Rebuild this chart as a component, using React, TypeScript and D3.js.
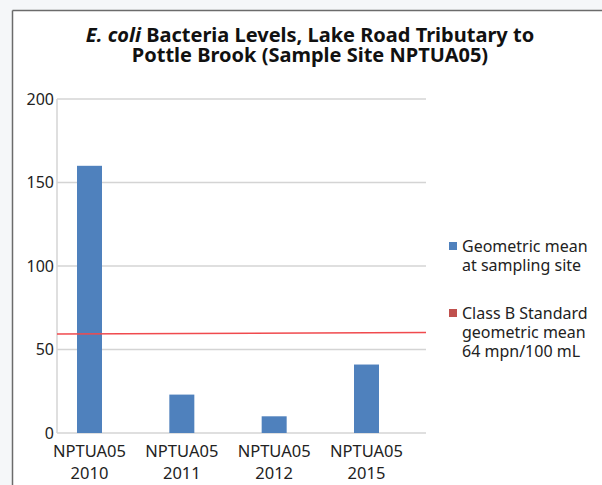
import * as d3 from "d3";

const categories = ["NPTUA05 2010", "NPTUA05 2011", "NPTUA05 2012", "NPTUA05 2015"];
const geoMean = [160, 23, 10, 41];
// red standard line, value at left end and right end of plot
const standardLine = [59.3, 60.2];
const yTicks = [0, 50, 100, 150, 200];
const legendItems = [
	{ lines: ["Geometric mean", "at sampling site"], color: "#4f81bd" },
	{ lines: ["Class B Standard", "geometric mean", "64 mpn/100 mL"], color: "#c0504d" },
];

const W = 602;
const H = 485;
const font = "'Noto Sans', sans-serif";

export default function App() {
	const plot = { left: 57, right: 426, top: 99, bottom: 433 };

	const y = d3.scaleLinear().domain([0, 200]).range([plot.bottom, plot.top]);
	const x = d3.scalePoint<string>().domain(categories).range([89.5, 366.5]);
	const barW = 25;

	const redLine = d3
		.line<number>()
		.x((_, i) => (i === 0 ? plot.left : plot.right))
		.y((d) => y(d));

	return (
		<div style={{ position: "fixed", left: 0, top: 0 }}>
			<svg width={W} height={H} style={{ display: "block", fontFamily: font }}>
				<rect width={W} height={H} fill="#f5f7f9" />
				<rect x={13} y={11} width={W - 13} height={H - 11} fill="#fff" />
				<line x1={12.5} x2={W} y1={10.5} y2={10.5} stroke="#6b6b6b" strokeWidth={1.5} />
				<line x1={12.5} x2={12.5} y1={10.5} y2={H} stroke="#6b6b6b" strokeWidth={1.5} />

				<text textAnchor="middle" fontWeight="bold" fontSize={20} fill="#111">
					<tspan x={310} y={42}>
						<tspan fontStyle="italic">E. coli</tspan> Bacteria Levels, Lake Road Tributary to
					</tspan>
					<tspan x={310} y={62}>Pottle Brook (Sample Site NPTUA05)</tspan>
				</text>

				{yTicks.map((t) => (
					<g key={t}>
						<line
							x1={plot.left}
							x2={plot.right}
							y1={y(t)}
							y2={y(t)}
							stroke="#d4d4d4"
							strokeWidth={1.5}
						/>
						<text
							x={54}
							y={y(t)}
							dy="0.36em"
							textAnchor="end"
							fontSize={16}
							fill="#222"
						>
							{t}
						</text>
					</g>
				))}
				<line
					x1={plot.left}
					x2={plot.left}
					y1={plot.top}
					y2={plot.bottom}
					stroke="#d4d4d4"
					strokeWidth={1.5}
				/>

				{categories.map((c, i) => (
					<g key={c}>
						<rect
							x={x(c)! - barW / 2}
							y={y(geoMean[i])}
							width={barW}
							height={plot.bottom - y(geoMean[i])}
							fill="#4f81bd"
						/>
						<text textAnchor="middle" fontSize={16.5} fill="#222">
							{c.split(" ").map((part, j) => (
								<tspan key={j} x={x(c)} y={457 + j * 22}>
									{part}
								</tspan>
							))}
						</text>
					</g>
				))}

				<path d={redLine(standardLine) ?? ""} fill="none" stroke="#f04a4e" strokeWidth={1.5} />

				{legendItems.map((item, i) => {
					const top = i === 0 ? 242 : 309;
					return (
						<g key={i}>
							<rect x={449} y={top} width={8} height={8} fill={item.color} />
							{item.lines.map((l, j) => (
								<text key={j} x={462} y={top + 10 + j * 19} fontSize={16} fill="#222">
									{l}
								</text>
							))}
						</g>
					);
				})}
			</svg>
		</div>
	);
}
